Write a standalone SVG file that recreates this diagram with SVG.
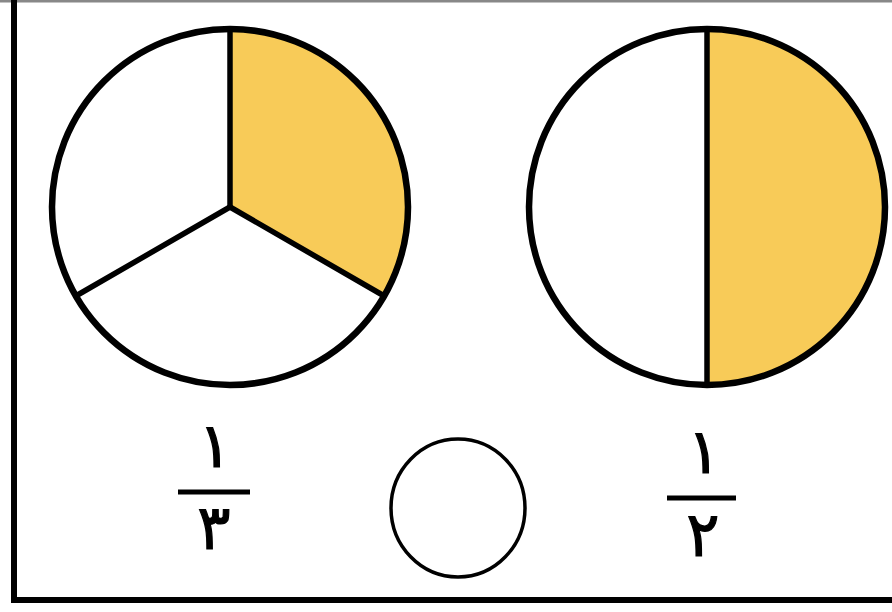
<svg xmlns="http://www.w3.org/2000/svg" width="892" height="612" viewBox="0 0 892 612">
<style>
.ol{fill:none;stroke:#000;stroke-width:6.5}
.sp{stroke:#000;stroke-width:5.5;stroke-linecap:round}
.fill{fill:#F8CB58}
.num{font-family:"DejaVu Sans",sans-serif;font-size:62px;fill:#000;stroke:#000;stroke-width:1.2;text-anchor:middle}
.bar{stroke:#000;stroke-width:5}
</style>
<rect width="892" height="612" fill="#fff"/>
<g id="frame">
<line x1="0" y1="1" x2="892" y2="1" stroke="#888" stroke-width="3"/>
<line x1="14" y1="0" x2="14" y2="603" stroke="#000" stroke-width="6"/>
<line x1="11" y1="600" x2="892" y2="600" stroke="#000" stroke-width="6"/>
</g>
<g id="circle-thirds">
<path class="fill" d="M230,207 L230,29 A178,178 0 0 1 384.2,296 Z"/>
<line class="sp" x1="230" y1="29" x2="230" y2="207"/>
<line class="sp" x1="230" y1="207" x2="75.8" y2="296"/>
<line class="sp" x1="230" y1="207" x2="384.2" y2="296"/>
<circle class="ol" cx="230" cy="207" r="178"/>
</g>
<g id="circle-halves">
<path class="fill" d="M707,29 A178,178 0 0 1 707,385 Z"/>
<line class="sp" x1="707" y1="29" x2="707" y2="385"/>
<circle class="ol" cx="707" cy="207" r="178"/>
</g>
<g id="frac-third">
<text class="num" x="215" y="467">١</text>
<line class="bar" x1="178" y1="492" x2="250" y2="492"/>
<text class="num" x="214" y="549">٣</text>
</g>
<g id="blank-circle">
<ellipse cx="458" cy="508" rx="67" ry="69" fill="none" stroke="#000" stroke-width="3.5"/>
</g>
<g id="frac-half">
<text class="num" x="704" y="473">١</text>
<line class="bar" x1="667" y1="498" x2="736" y2="498"/>
<text class="num" x="703" y="556">٢</text>
</g>
</svg>
